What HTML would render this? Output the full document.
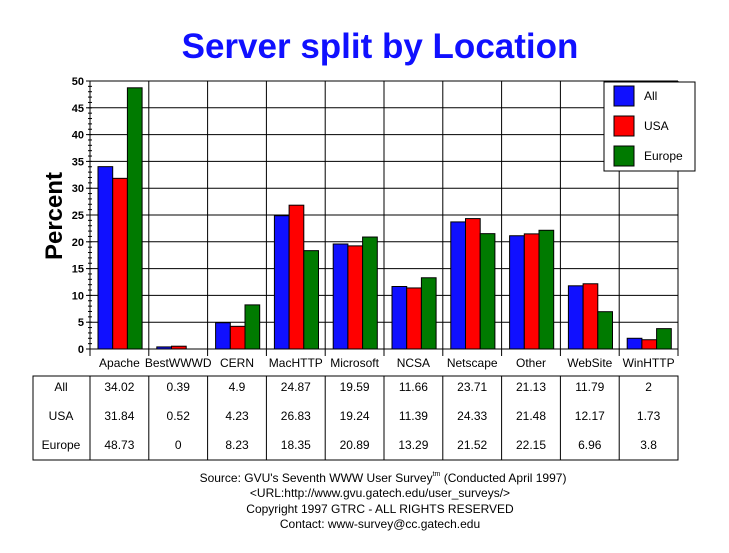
<!DOCTYPE html>
<html><head><meta charset="utf-8"><style>
body{margin:0;background:#fff;width:729px;height:553px;overflow:hidden}
svg{display:block;font-family:"Liberation Sans",Arial,sans-serif}
</style></head><body>
<svg id="s" width="729" height="553" xmlns="http://www.w3.org/2000/svg">
<rect width="729" height="553" fill="#fff"/>
<text x="380" y="58" text-anchor="middle" font-size="35" font-weight="bold" fill="#1010ff">Server split by Location</text>
<text transform="translate(62,216) rotate(-90)" text-anchor="middle" font-size="24" font-weight="bold" fill="#000">Percent</text>
<g id="g"></g>
<g font-size="12" text-anchor="middle" fill="#000">
<text x="383" y="482">Source: GVU's Seventh WWW User Survey<tspan font-size="7" dy="-6">tm</tspan><tspan dy="6"> (Conducted April 1997)</tspan></text>
<text x="380" y="497">&lt;URL:http://www.gvu.gatech.edu/user_surveys/&gt;</text>
<text x="380" y="513">Copyright 1997 GTRC - ALL RIGHTS RESERVED</text>
<text x="380" y="528">Contact: www-survey@cc.gatech.edu</text>
</g>
</svg>
<script>
var cats=["Apache","BestWWWD","CERN","MacHTTP","Microsoft","NCSA","Netscape","Other","WebSite","WinHTTP"];
var d=[[34.02,0.39,4.9,24.87,19.59,11.66,23.71,21.13,11.79,2],[31.84,0.52,4.23,26.83,19.24,11.39,24.33,21.48,12.17,1.73],[48.73,0,8.23,18.35,20.89,13.29,21.52,22.15,6.96,3.8]];
var col=["#1010ff","#ff0000","#007a00"],names=["All","USA","Europe"];
var L=90,R=678,T=81,B=349,cw=(R-L)/10,k=(B-T)/50,h="";
for(var v=0;v<=50;v+=5){var y=B-v*k;h+='<line x1="'+(v?L:86)+'" x2="'+R+'" y1="'+y+'" y2="'+y+'" stroke="#000"/>';
h+='<line x1="86" x2="'+L+'" y1="'+y+'" y2="'+y+'" stroke="#000"/><text x="84" y="'+(y+4)+'" text-anchor="end" font-size="11" font-weight="bold">'+v+'</text>';}
for(var v=0;v<50;v++){var y=B-v*k;h+='<line x1="88" x2="92" y1="'+y+'" y2="'+y+'" stroke="#000"/>';}
h+='<line x1="'+L+'" x2="'+L+'" y1="'+T+'" y2="356" stroke="#000"/>';
for(var i=1;i<=10;i++){var x=L+i*cw;h+='<line x1="'+x+'" x2="'+x+'" y1="'+T+'" y2="356" stroke="#000"/>';}
for(var i=0;i<10;i++){var x0=L+i*cw+8;for(var s=0;s<3;s++){var val=d[s][i];if(val<=0)continue;var hh=val*k;
h+='<rect x="'+(x0+s*14.7)+'" y="'+(B-hh)+'" width="14.7" height="'+hh+'" fill="'+col[s]+'" stroke="#000"/>';}
h+='<text x="'+(L+i*cw+cw/2)+'" y="367" text-anchor="middle" font-size="12">'+cats[i]+'</text>';}
h+='<rect x="604" y="82" width="91" height="89" fill="#fff" stroke="#000"/>';
for(var s=0;s<3;s++){h+='<rect x="614" y="'+(86+s*30)+'" width="20" height="20" fill="'+col[s]+'" stroke="#000"/><text x="644" y="'+(100+s*30)+'" font-size="12">'+names[s]+'</text>';}
var tt=376,rh=28;
h+='<rect x="33" y="'+tt+'" width="'+(R-33)+'" height="'+(3*rh)+'" fill="none" stroke="#000"/>';
for(var i=0;i<=10;i++){var x=L+i*cw;h+='<line x1="'+x+'" x2="'+x+'" y1="'+tt+'" y2="'+(tt+3*rh)+'" stroke="#000"/>';}
for(var s=0;s<3;s++){var y=tt+s*29+15;h+='<text x="61" y="'+y+'" text-anchor="middle" font-size="12">'+names[s]+'</text>';
for(var i=0;i<10;i++)h+='<text x="'+(L+i*cw+cw/2)+'" y="'+y+'" text-anchor="middle" font-size="12">'+d[s][i]+'</text>';}
document.getElementById("g").innerHTML=h;
</script>
</body></html>
